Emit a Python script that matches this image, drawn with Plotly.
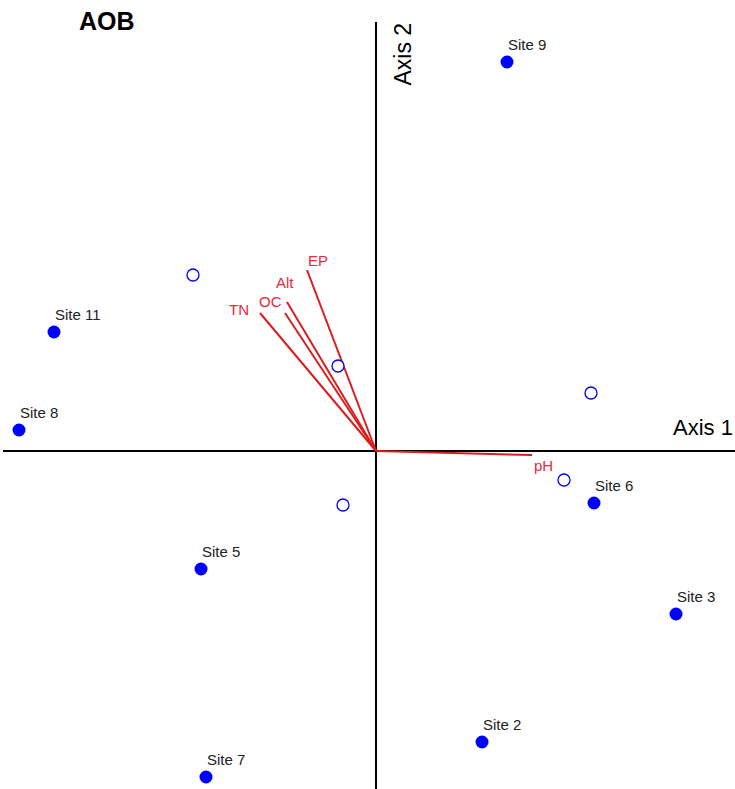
import plotly.graph_objects as go

# Site scores (filled points)
site_names = ["Site 9", "Site 11", "Site 8", "Site 5", "Site 7", "Site 2", "Site 3", "Site 6"]
site_x = [1.31, -3.22, -3.57, -1.75, -1.70, 1.06, 3.00, 2.18]
site_y = [3.89, 1.19, 0.21, -1.18, -3.26, -2.91, -1.63, -0.52]

# Species scores (open circles)
sp_x = [-1.83, -0.38, 2.15, 1.88, -0.33]
sp_y = [1.76, 0.85, 0.58, -0.29, -0.54]

# Environmental vectors
env_names = ["EP", "Alt", "OC", "TN", "pH"]
env_x = [-0.69, -0.89, -0.91, -1.16, 1.56]
env_y = [1.81, 1.49, 1.38, 1.38, -0.04]

# label offsets (pixels) for vector labels
env_shift = {"EP": (11, 10), "Alt": (-2, 20), "OC": (-15, 12), "TN": (-21, 4), "pH": (11, -10)}

RED_LINE = "#D81E1E"
RED_TEXT = "#E5283A"
BLUE = "#0000FF"
FONT = "Arial, Liberation Sans, sans-serif"

fig = go.Figure()

# axis lines
fig.add_shape(type="line", x0=-3.73, x1=3.59, y0=0, y1=0, line=dict(color="black", width=2), layer="below")
fig.add_shape(type="line", x0=0, x1=0, y0=4.29, y1=-3.40, line=dict(color="black", width=2), layer="below")

# env vectors
for n, x, y in zip(env_names, env_x, env_y):
    fig.add_trace(go.Scatter(x=[0, x], y=[0, y], mode="lines",
                             line=dict(color=RED_LINE, width=2), showlegend=False, hoverinfo="skip"))
    dx, dy = env_shift[n]
    fig.add_annotation(x=x, y=y, text=n, showarrow=False, xshift=dx, yshift=dy,
                       font=dict(family=FONT, size=15, color=RED_TEXT))

# species (open)
fig.add_trace(go.Scatter(x=sp_x, y=sp_y, mode="markers",
                         marker=dict(size=12, color="white", line=dict(color=BLUE, width=1.3)),
                         showlegend=False))

# sites (filled)
fig.add_trace(go.Scatter(x=site_x, y=site_y, mode="markers",
                         marker=dict(size=13, color=BLUE, line=dict(width=0)),
                         showlegend=False))
for n, x, y in zip(site_names, site_x, site_y):
    fig.add_annotation(x=x, y=y, text=n, showarrow=False, xanchor="left", yanchor="middle",
                       xshift=-1, yshift=18, font=dict(family=FONT, size=15, color="#222222"))

# axis titles
fig.add_annotation(x=3.59, y=0, text="Axis 1", showarrow=False, xanchor="right", yanchor="middle",
                   xshift=0, yshift=24, font=dict(family=FONT, size=22, color="black"))
fig.add_annotation(x=0, y=4.29, text="Axis 2", showarrow=False, textangle=-90,
                   xanchor="left", yanchor="top", xshift=11, yshift=1,
                   font=dict(family=FONT, size=23, color="black"))
fig.add_annotation(xref="paper", yref="paper", x=107/735, y=1 - 21/789, text="<b>AOB</b>",
                   xanchor="center", yanchor="middle",
                   showarrow=False, font=dict(family=FONT, size=25, color="black"))

fig.update_layout(
    width=735, height=789,
    margin=dict(l=0, r=0, t=0, b=0),
    paper_bgcolor="white", plot_bgcolor="white",
    xaxis=dict(range=[-3.76, 3.59], visible=False, showgrid=False, zeroline=False),
    yaxis=dict(range=[-3.38, 4.51], visible=False, showgrid=False, zeroline=False),
)

fig.write_html("out.html", config={"displayModeBar": False},
               post_script="document.body.style.margin='0';document.body.style.overflow='hidden';")
